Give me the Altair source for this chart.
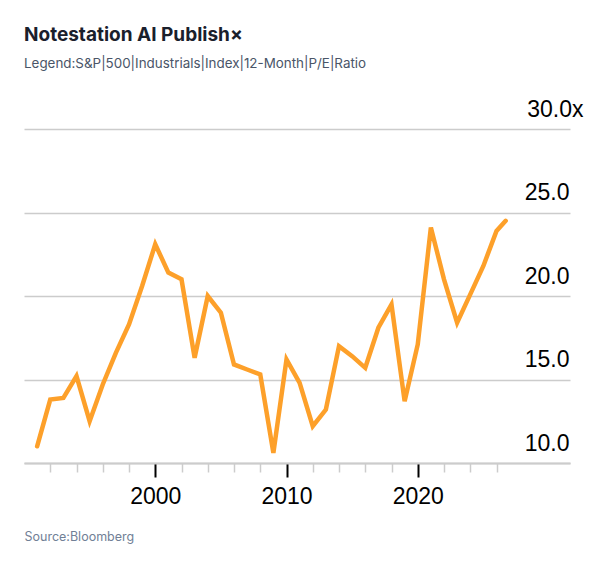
import altair as alt
import pandas as pd

years = [1991, 1992, 1993, 1994, 1995, 1996, 1997, 1998, 1999, 2000,
         2001, 2002, 2003, 2004, 2005, 2006, 2007, 2008, 2009, 2010,
         2011, 2012, 2013, 2014, 2015, 2016, 2017, 2018, 2019, 2020,
         2021, 2022, 2023, 2024, 2025, 2026, 2026.7]
pe_ratio = [11.0, 13.8, 13.9, 15.2, 12.5, 14.7, 16.6, 18.3, 20.6, 23.1,
            21.4, 21.0, 16.3, 20.0, 19.0, 15.9, 15.6, 15.3, 10.6, 16.2,
            14.8, 12.2, 13.2, 17.0, 16.4, 15.7, 18.1, 19.5, 13.7, 17.1,
            24.1, 21.0, 18.4, 20.1, 21.8, 23.9, 24.5]
x_ticks = list(range(1992, 2027, 2))
y_ticks = [10, 15, 20, 25, 30]

df = pd.DataFrame({"year": years, "pe": pe_ratio})

major = "datum.value % 10 === 0"

x_axis = alt.Axis(
    values=x_ticks,
    labelExpr=f"{major} ? datum.value : ''",
    grid=False,
    domainColor="#cccccc",
    domainWidth=2,
    tickColor={"condition": {"test": major, "value": "#000000"}, "value": "#cccccc"},
    tickSize={"condition": {"test": major, "value": 14}, "value": 9},
    tickWidth={"condition": {"test": major, "value": 2}, "value": 1.5},
    labelFont="Liberation Sans",
    labelFontSize=23,
    labelColor="#000000",
    labelPadding=8,
    labelOverlap=False,
    labelFlush=False,
    title="Source:Bloomberg",
    titleFont="Inter",
    titleFontSize=12.5,
    titleFontWeight="normal",
    titleColor="#718096",
    titleAnchor="start",
    titleAlign="left",
    titleBaseline="alphabetic",
    titleX=0,
    titleY=77,
)

y_axis = alt.Axis(
    orient="right",
    values=y_ticks,
    domain=False,
    ticks=False,
    grid=True,
    gridColor="#cccccc",
    gridWidth=1.5,
    labelExpr="datum.value === 30 ? format(datum.value, '.1f') + 'x' : format(datum.value, '.1f')",
    labelAlign="right",
    labelBaseline="alphabetic",
    labelOffset=-13,
    labelPadding={"condition": {"test": "datum.value === 30", "value": 13}, "value": -1},
    labelFont="Liberation Sans",
    labelFontSize=23,
    labelColor="#000000",
    labelOverlap=False,
    title=None,
)

chart = (
    alt.Chart(df)
    .mark_line(color="#FDA02A", strokeWidth=4.5, strokeCap="round")
    .encode(
        x=alt.X("year:Q", scale=alt.Scale(domain=[1990, 2031.6], nice=False, zero=False), axis=x_axis),
        y=alt.Y("pe:Q", scale=alt.Scale(domain=[10, 30], nice=False, zero=False), axis=y_axis),
    )
    .properties(
        width=546,
        height=334,
        autosize=alt.AutoSizeParams(type="none"),
        padding={"left": 16, "top": 121, "right": 30, "bottom": 90},
        background="#ffffff",
        title=alt.TitleParams(
            text="Notestation AI Publish×",
            subtitle="Legend:S&P|500|Industrials|Index|12-Month|P/E|Ratio",
            anchor="start",
            frame="group",
            font="Inter",
            fontSize=19,
            fontWeight="bold",
            color="#1a202c",
            subtitleFont="Inter",
            subtitleFontSize=13.4,
            subtitleColor="#4a5568",
            subtitlePadding=12,
            offset=28,
        ),
    )
    .configure_view(stroke=None)
)

chart.save("out.html", embed_options={"renderer": "svg", "actions": False})
